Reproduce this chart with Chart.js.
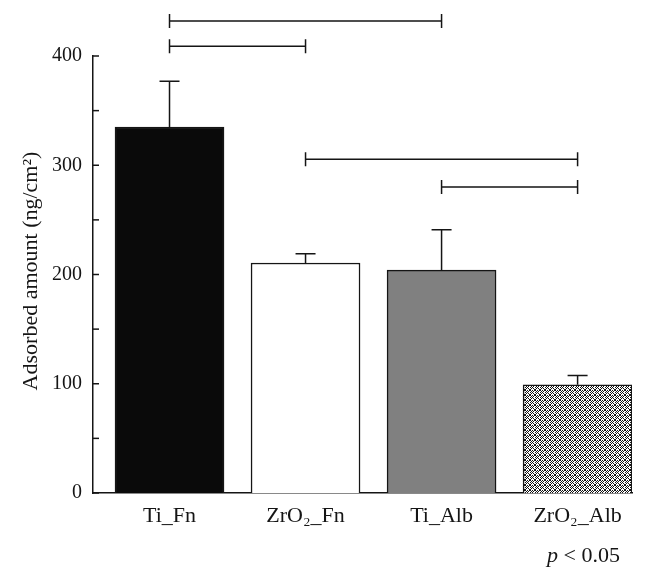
<!DOCTYPE html>
<html><head><meta charset="utf-8">
<script src="https://cdn.jsdelivr.net/npm/chart.js@4/dist/chart.umd.min.js"></script>
<style>html,body{margin:0;padding:0;background:#fff;}#wrap{width:658px;height:579px;}</style>
</head><body><div id="wrap"><canvas id="c" width="658" height="579"></canvas></div>
<script>
const categories = ['Ti_Fn', 'ZrO₂_Fn', 'Ti_Alb', 'ZrO₂_Alb'];
const means = [335, 210.5, 204, 99];
const errorTops = [377, 219, 241, 107.5];
const bracketFrom = [0, 0, 1, 2];
const bracketTo = [2, 1, 3, 3];
const bracketLevels = [432, 409, 305.5, 280];
const yLabel = 'Adsorbed amount (ng/cm²)';
const noteItalic = 'p';
const noteRest = ' < 0.05';

const FONT = "'Liberation Serif', 'DejaVu Serif', serif";
const INK = '#151515';

const ctx0 = document.getElementById('c').getContext('2d');
const pattern = ctx0.createPattern((() => {
  const t = document.createElement('canvas');
  t.width = 5; t.height = 5;
  const g = t.getContext('2d');
  g.fillStyle = '#fff'; g.fillRect(0, 0, 5, 5);
  g.fillStyle = '#111';
  [[0,0],[1,1],[3,3],[4,4],[0,4],[1,3],[3,1],[4,0],[2,2],[2,0],[0,2]].forEach(([x,y]) => g.fillRect(x, y, 1, 1));
  return t;
})(), 'repeat');

const overlay = {
  id: 'overlay',
  afterDatasetsDraw(chart) {
    const ctx = chart.ctx;
    const xs = chart.scales.x, ys = chart.scales.y;
    const meta = chart.getDatasetMeta(0);
    ctx.save();
    ctx.strokeStyle = INK;
    ctx.lineWidth = 1.5;
    meta.data.forEach((bar, i) => {
      const x = bar.x;
      const yTop = ys.getPixelForValue(errorTops[i]);
      const yBar = ys.getPixelForValue(means[i]);
      ctx.beginPath();
      ctx.moveTo(x, yBar); ctx.lineTo(x, yTop);
      ctx.moveTo(x - 10, yTop); ctx.lineTo(x + 10, yTop);
      ctx.stroke();
    });
    bracketLevels.forEach((lv, k) => {
      const y = ys.getPixelForValue(lv);
      const x1 = xs.getPixelForValue(bracketFrom[k]);
      const x2 = xs.getPixelForValue(bracketTo[k]);
      ctx.beginPath();
      ctx.moveTo(x1, y); ctx.lineTo(x2, y);
      ctx.moveTo(x1, y - 7); ctx.lineTo(x1, y + 7);
      ctx.moveTo(x2, y - 7); ctx.lineTo(x2, y + 7);
      ctx.stroke();
    });
    const left = chart.chartArea.left;
    ys.ticks.forEach(t => {
      const y = ys.getPixelForValue(t.value);
      ctx.beginPath();
      ctx.moveTo(left, y); ctx.lineTo(left + 6, y);
      ctx.stroke();
    });
    ctx.fillStyle = INK;
    ctx.save();
    ctx.translate(37, 271);
    ctx.rotate(-Math.PI / 2);
    ctx.textAlign = 'center';
    ctx.textBaseline = 'alphabetic';
    ctx.font = '22px ' + FONT;
    ctx.fillText(yLabel, 0, 0);
    ctx.restore();
    ctx.textBaseline = 'alphabetic';
    ctx.textAlign = 'left';
    ctx.font = 'italic 22px ' + FONT;
    const nx = 547, ny = 562;
    ctx.fillText(noteItalic, nx, ny);
    const w = ctx.measureText(noteItalic).width;
    ctx.font = '22px ' + FONT;
    ctx.fillText(noteRest, nx + w, ny);
    ctx.restore();
  }
};

new Chart(document.getElementById('c'), {
  type: 'bar',
  data: {
    datasets: [{
      data: categories.map((c, i) => ({ x: i, y: means[i] })),
      backgroundColor: ['#0a0a0a', '#ffffff', '#808080', pattern],
      borderColor: INK,
      borderWidth: 1.5,
      barThickness: 109
    }]
  },
  options: {
    responsive: false,
    animation: false,
    devicePixelRatio: 1,
    layout: { padding: { left: 0, top: 56, right: 26, bottom: 0 } },
    plugins: { legend: { display: false }, tooltip: { enabled: false } },
    scales: {
      x: {
        type: 'linear',
        offset: false,
        min: -0.5625, max: 3.4,
        grid: { display: false, drawTicks: false, offset: false },
        border: { display: true, color: INK, width: 1.5 },
        afterBuildTicks: s => { s.ticks = categories.map((c, i) => ({ value: i })); },
        afterFit: s => { s.height = 86; },
        ticks: {
          callback: v => categories[v],
          font: { family: FONT, size: 22 },
          color: INK, padding: 10, maxRotation: 0, autoSkip: false
        }
      },
      y: {
        min: 0, max: 400,
        grid: { display: false, drawTicks: false },
        border: { display: true, color: INK, width: 1.5 },
        afterFit: s => { s.width = 93; },
        ticks: {
          stepSize: 50,
          callback: v => (v % 100 === 0 ? v : ''),
          font: { family: FONT, size: 20 },
          color: INK, padding: 11, autoSkip: false
        }
      }
    }
  },
  plugins: [overlay]
});
</script>
</body></html>
